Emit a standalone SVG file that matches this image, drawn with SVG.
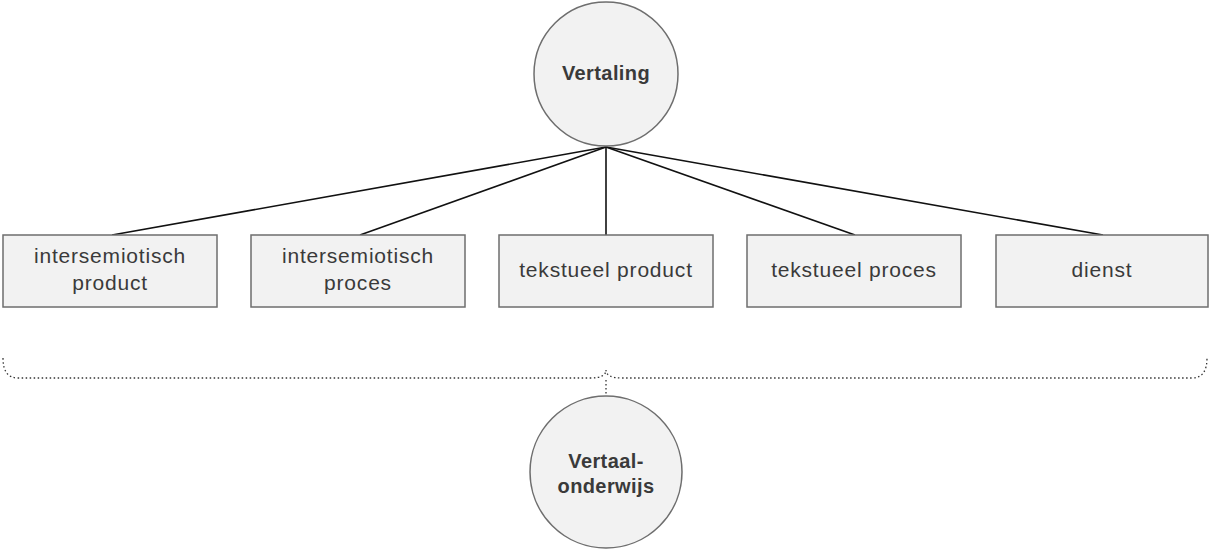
<svg xmlns="http://www.w3.org/2000/svg" width="1210" height="552" viewBox="0 0 1210 552">
<style>
.node{fill:#f2f2f2;stroke:#6e6e6e;stroke-width:1.5}
.lbl{font-family:"Liberation Sans",Arial,sans-serif;font-size:21px;letter-spacing:0.8px;fill:#3a3a3a;text-anchor:middle}
.b{font-weight:bold;font-size:20px;letter-spacing:0.4px}
.conn{stroke:#111;stroke-width:1.6;fill:none}
.dot{stroke:#333;stroke-width:1.3;fill:none;stroke-dasharray:1.5 2.5}
</style>
<rect width="1210" height="552" fill="#fff"/>
<g id="connectors">
<line class="conn" x1="606" y1="147" x2="112" y2="235"/>
<line class="conn" x1="606" y1="147" x2="360" y2="235"/>
<line class="conn" x1="606" y1="147" x2="606" y2="235"/>
<line class="conn" x1="606" y1="147" x2="855" y2="235"/>
<line class="conn" x1="606" y1="147" x2="1103" y2="235"/>
<path class="dot" d="M3,358 Q3,378 18,378 L590,378 Q606,378 606,370 Q606,378 622,378 L1192,378 Q1207,378 1207,358"/>
<line class="dot" x1="606" y1="380" x2="606" y2="396"/>
</g>
<g id="vertaling">
<circle class="node" cx="606" cy="74" r="72"/>
<text class="lbl b" x="606" y="80">Vertaling</text>
</g>
<g id="intersemiotisch-product">
<rect class="node" x="3" y="235" width="214" height="72"/>
<text class="lbl" x="110" y="263">intersemiotisch</text>
<text class="lbl" x="110" y="290">product</text>
</g>
<g id="intersemiotisch-proces">
<rect class="node" x="251" y="235" width="214" height="72"/>
<text class="lbl" x="358" y="263">intersemiotisch</text>
<text class="lbl" x="358" y="290">proces</text>
</g>
<g id="tekstueel-product">
<rect class="node" x="499" y="235" width="214" height="72"/>
<text class="lbl" x="606" y="277">tekstueel product</text>
</g>
<g id="tekstueel-proces">
<rect class="node" x="747" y="235" width="214" height="72"/>
<text class="lbl" x="854" y="277">tekstueel proces</text>
</g>
<g id="dienst">
<rect class="node" x="996" y="235" width="212" height="72"/>
<text class="lbl" x="1102" y="277">dienst</text>
</g>
<g id="vertaalonderwijs">
<circle class="node" cx="606" cy="472" r="76"/>
<text class="lbl b" x="606" y="468">Vertaal-</text>
<text class="lbl b" x="606" y="493">onderwijs</text>
</g>
</svg>
